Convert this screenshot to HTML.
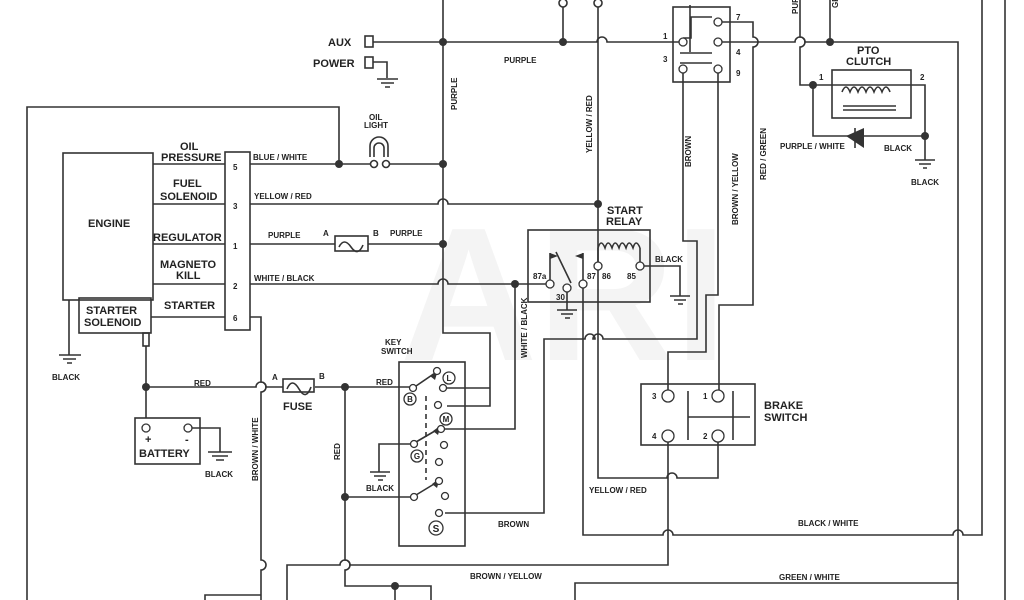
<!DOCTYPE html>
<html><head><meta charset="utf-8"><style>
body{margin:0;background:#fff;width:1024px;height:600px;overflow:hidden}
svg{display:block}
text{font-family:"Liberation Sans",sans-serif;font-weight:bold;fill:#222}
.w{font-size:8px}.l{font-size:11px}
</style></head><body>
<svg width="1024" height="600" viewBox="0 0 1024 600" xmlns="http://www.w3.org/2000/svg">
<text x="400" y="360" font-size="190" style="fill:#f4f4f4;font-weight:bold">ARI</text>
<g stroke="#333" stroke-width="1.6" fill="none">
<path d="M27 600V107H339V163"/>
<rect x="63" y="153" width="90" height="147"/>
<rect x="225" y="152" width="25" height="178"/>
<rect x="79" y="298" width="72" height="35"/>
<path d="M153 164H225M153 204H225M153 244H225M153 284H225M151 317H225"/>
<path d="M69 300V355M59 355H81M63 359H76M67 363H72"/>
<rect x="143" y="333" width="6" height="13"/>
<path d="M146 346V418"/>
<path d="M443 0V333H490V406H447M443 388H490"/>
<rect x="365" y="36" width="8" height="11"/><rect x="365" y="57" width="8" height="11"/>
<path d="M373 42H597a5 5 0 0 1 10 0H683M373 62H387V78M377 79H398M381 83H394M385 87H390"/>
<path d="M250 164H373M388 164H443"/>
<path d="M370 157V146a9 9 0 0 1 18 0V157"/><path d="M374 157V148a5 5 0 0 1 10 0V157"/>
<circle cx="374" cy="164" r="3.5" fill="#fff"/><circle cx="386" cy="164" r="3.5" fill="#fff"/>
<path d="M250 204H438a5 5 0 0 1 10 0H598"/>
<path d="M598 0V478H667a5 5 0 0 1 10 0H718V440"/>
<path d="M250 244H335M368 244H443"/>
<rect x="335" y="236" width="33" height="15"/><path d="M339 247q5-10 12 0t12-2"/>
<path d="M250 284H438a5 5 0 0 1 10 0H546M515 284V429H445"/>
<rect x="528" y="230" width="122" height="72"/>
<path d="M598 262V248M640 262V248M598 248q3-10 7 0q3-10 7 0q3-10 7 0q3-10 7 0q3-10 7 0q3-10 7 0"/>
<path d="M644 266H680V296M670 296H690M674 300H686M678 304H683"/>
<path d="M550 280V253M571 283L556 252M583 280V253"/>
<path d="M567 291V310M557 310H577M561 314H573M565 318H570"/>
<path d="M583 288V535H663a5 5 0 0 1 10 0H953a5 5 0 0 1 10 0H982V0"/>
<path d="M1005 0V600"/>
<path d="M445 513H544V339H585a5 5 0 0 1 10 0H593a5 5 0 0 1 10 0H697V300V241H683V72"/>
<rect x="673" y="7" width="57" height="75"/>
<path d="M690 5V52M683 38H691V17H712M680 53H712M680 63H712"/>
<path d="M722 22H753V37a5 5 0 0 1 0 10V305H719V392"/>
<path d="M718 70V295H706V352H668V392M668 440V565H350a5 5 0 0 0-10 0H287V600"/>
<path d="M722 42H795a5 5 0 0 1 10 0H958V600"/>
<path d="M830 0V42"/>
<path d="M563 7V42M598 7V0"/>
<circle cx="563" cy="3" r="4" fill="#fff"/><circle cx="598" cy="3" r="4" fill="#fff"/>
<path d="M800 0V37a5 5 0 0 1 0 10V85H925V136M813 85V136H925V160M915 160H935M919 164H931M923 168H927"/>
<rect x="832" y="70" width="79" height="48"/>
<path d="M842 92q4-10 8 0q4-10 8 0q4-10 8 0q4-10 8 0q4-10 8 0q4-10 8 0"/>
<path d="M843 106H896M843 110H896"/>
<path d="M855 128V148"/>
<rect x="641" y="384" width="114" height="61"/>
<path d="M688 391V440M688 417H750M733 391V440"/>
<path d="M575 600V583H958"/>
<path d="M250 317H261V382a5 5 0 0 1 0 10V560a5 5 0 0 1 0 10V600"/>
<path d="M205 600V595H261"/>
<path d="M146 387H256a5 5 0 0 1 10 0H283M315 387H410"/>
<rect x="283" y="379" width="31" height="13"/><path d="M287 389q5-12 12 0t12-2"/>
<path d="M345 387V560a5 5 0 0 1 0 10V586H431V600M395 586V600"/>
<path d="M345 497H411"/>
<rect x="135" y="418" width="65" height="46"/>
<path d="M192 428H220V452M208 452H232M212 456H228M216 460H224"/>
<rect x="399" y="362" width="66" height="184"/>
<path d="M416 386L435 373M416 442L440 428M416 495L439 481"/>
<path d="M426 396V480" stroke-dasharray="5,4"/>
<path d="M411 444H379V472M370 472H390M374 476H386M378 480H383"/>
</g>
<g fill="#333">
<circle cx="443" cy="42" r="4"/><circle cx="563" cy="42" r="4"/><circle cx="830" cy="42" r="4"/>
<circle cx="339" cy="164" r="4"/><circle cx="443" cy="164" r="4"/><circle cx="443" cy="244" r="4"/>
<circle cx="598" cy="204" r="4"/><circle cx="515" cy="284" r="4"/><circle cx="813" cy="85" r="4"/>
<circle cx="925" cy="136" r="4"/><circle cx="146" cy="387" r="4"/><circle cx="345" cy="387" r="4"/>
<circle cx="345" cy="497" r="4"/><circle cx="395" cy="586" r="4"/>
<path d="M846 136L864 128V148Z"/>
<path d="M430 376l8-6-3 10z M433 431l8-6-3 10z M432 484l8-6-3 10z"/>
<path d="M550 253l8 3-8 3z M583 253l-8 3 8 3z"/>
</g>
<g stroke="#333" stroke-width="1.3" fill="#fff">
<circle cx="683" cy="42" r="4"/><circle cx="718" cy="42" r="4"/><circle cx="718" cy="22" r="4"/>
<circle cx="683" cy="69" r="4"/><circle cx="718" cy="69" r="4"/>
<circle cx="550" cy="284" r="4"/><circle cx="567" cy="288" r="4"/><circle cx="583" cy="284" r="4"/>
<circle cx="598" cy="266" r="4"/><circle cx="640" cy="266" r="4"/>
<circle cx="668" cy="396" r="6"/><circle cx="718" cy="396" r="6"/><circle cx="668" cy="436" r="6"/><circle cx="718" cy="436" r="6"/>
<circle cx="146" cy="428" r="4"/><circle cx="188" cy="428" r="4"/>
<circle cx="413" cy="388" r="3.5"/><circle cx="437" cy="371" r="3.5"/><circle cx="443" cy="388" r="3.5"/><circle cx="438" cy="405" r="3.5"/>
<circle cx="441" cy="429" r="3.5"/><circle cx="414" cy="444" r="3.5"/><circle cx="444" cy="445" r="3.5"/><circle cx="439" cy="462" r="3.5"/>
<circle cx="439" cy="481" r="3.5"/><circle cx="414" cy="497" r="3.5"/><circle cx="445" cy="496" r="3.5"/><circle cx="439" cy="513" r="3.5"/>
<circle cx="449" cy="378" r="6"/><circle cx="410" cy="399" r="6"/><circle cx="446" cy="419" r="6"/><circle cx="417" cy="456" r="6"/><circle cx="436" cy="528" r="7"/>
</g>
<g font-size="8" text-anchor="middle" style="font-size:8px">
<text x="449" y="381">L</text><text x="410" y="402">B</text><text x="446" y="422">M</text><text x="417" y="459">G</text><text x="436" y="532" style="font-size:10px">S</text>
</g>
<g class="l">
<text x="328" y="46">AUX</text><text x="313" y="67">POWER</text>
<text x="180" y="150">OIL</text><text x="161" y="161">PRESSURE</text>
<text x="173" y="187">FUEL</text><text x="160" y="200">SOLENOID</text>
<text x="88" y="227">ENGINE</text>
<text x="153" y="241">REGULATOR</text>
<text x="160" y="268">MAGNETO</text><text x="176" y="279">KILL</text>
<text x="164" y="309">STARTER</text>
<text x="86" y="314">STARTER</text><text x="84" y="326">SOLENOID</text>
<text x="283" y="410">FUSE</text><text x="139" y="457">BATTERY</text>
<text x="607" y="214">START</text><text x="606" y="225">RELAY</text>
<text x="764" y="409">BRAKE</text><text x="764" y="421">SWITCH</text>
<text x="857" y="54">PTO</text><text x="846" y="65">CLUTCH</text>
<text x="145" y="443">+</text><text x="185" y="443">-</text>
</g>
<g class="w">
<text x="233" y="170">5</text><text x="233" y="209">3</text><text x="233" y="249">1</text><text x="233" y="289">2</text><text x="233" y="321">6</text>
<text x="253" y="160">BLUE / WHITE</text><text x="254" y="199">YELLOW / RED</text>
<text x="268" y="238">PURPLE</text><text x="323" y="236">A</text><text x="373" y="236">B</text><text x="390" y="236">PURPLE</text>
<text x="254" y="281">WHITE / BLACK</text>
<text x="369" y="120">OIL</text><text x="364" y="128">LIGHT</text>
<text x="504" y="63">PURPLE</text>
<text x="52" y="380">BLACK</text>
<text x="194" y="386">RED</text><text x="272" y="380">A</text><text x="319" y="379">B</text><text x="376" y="385">RED</text>
<text x="205" y="477">BLACK</text>
<text x="385" y="345">KEY</text><text x="381" y="354">SWITCH</text>
<text x="366" y="491">BLACK</text>
<text x="498" y="527">BROWN</text>
<text x="470" y="579">BROWN / YELLOW</text>
<text x="589" y="493">YELLOW / RED</text>
<text x="798" y="526">BLACK / WHITE</text>
<text x="779" y="580">GREEN / WHITE</text>
<text x="655" y="262">BLACK</text>
<text x="533" y="279">87a</text><text x="556" y="300">30</text><text x="587" y="279">87</text><text x="602" y="279">86</text><text x="627" y="279">85</text>
<text x="663" y="39">1</text><text x="663" y="62">3</text><text x="736" y="20">7</text><text x="736" y="55">4</text><text x="736" y="76">9</text>
<text x="652" y="399">3</text><text x="703" y="399">1</text><text x="652" y="439">4</text><text x="703" y="439">2</text>
<text x="819" y="80">1</text><text x="920" y="80">2</text>
<text x="780" y="149">PURPLE / WHITE</text><text x="884" y="151">BLACK</text><text x="911" y="185">BLACK</text>
<g transform="rotate(-90)">
<text x="-110" y="457">PURPLE</text>
<text x="-153" y="592">YELLOW / RED</text>
<text x="-167" y="691">BROWN</text>
<text x="-225" y="738">BROWN / YELLOW</text>
<text x="-180" y="766">RED / GREEN</text>
<text x="-358" y="527">WHITE / BLACK</text>
<text x="-481" y="258">BROWN / WHITE</text>
<text x="-460" y="340">RED</text>
<text x="-14" y="798">PUR</text><text x="-8" y="838">GR</text>
</g>
</g>
</svg>
</body></html>
